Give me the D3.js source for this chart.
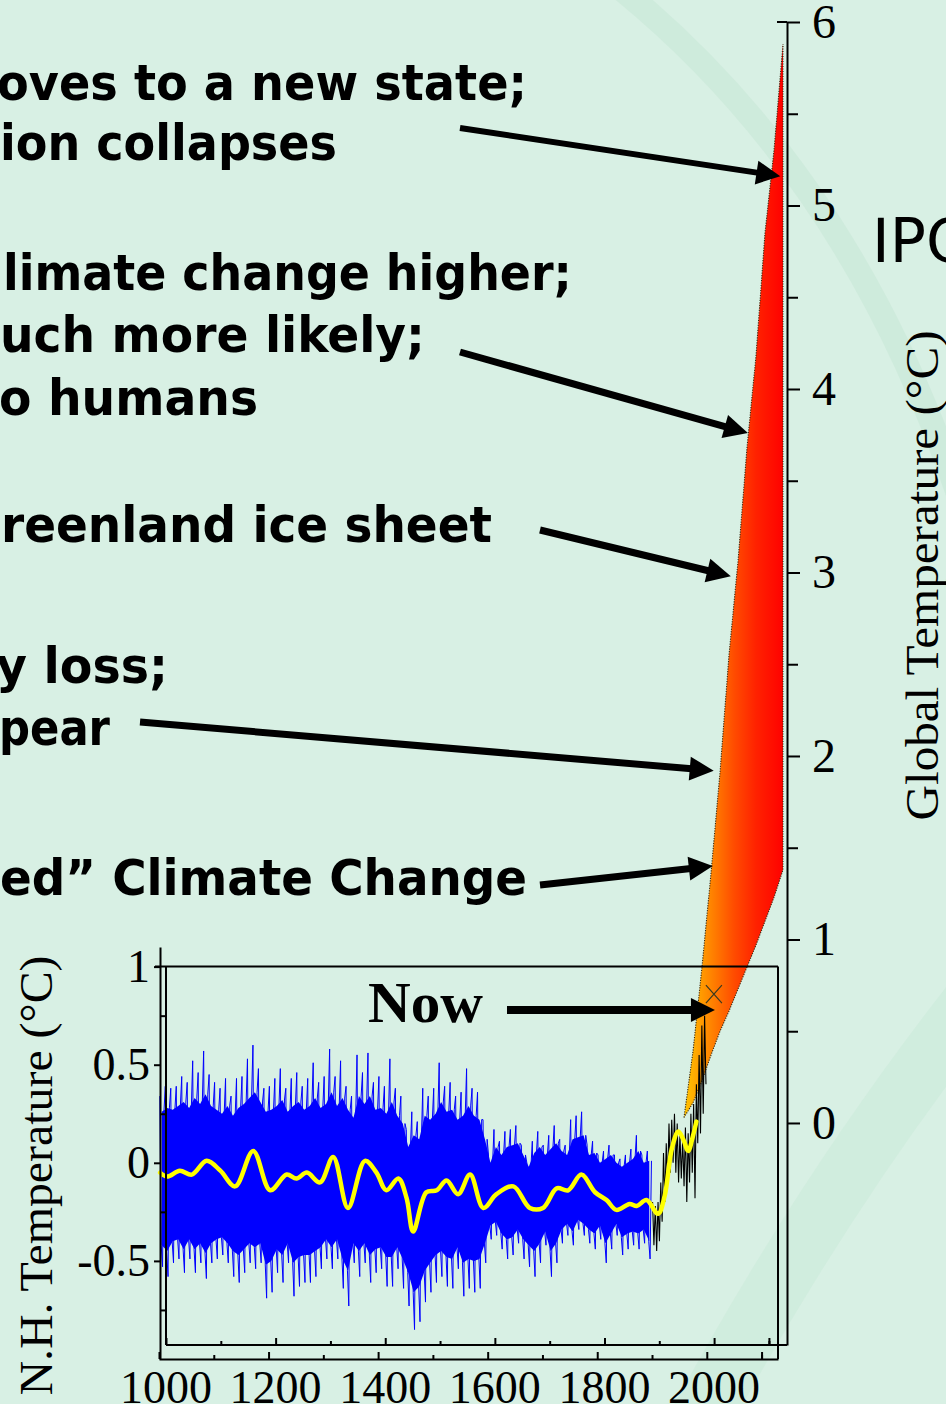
<!DOCTYPE html>
<html>
<head>
<meta charset="utf-8">
<script src="https://cdn.jsdelivr.net/npm/d3@7"></script>
<style>
  html, body { margin: 0; padding: 0; background: #d8f0e4; overflow: hidden; }
  svg { display: block; }
</style>
</head>
<body>
<svg id="chart" width="946" height="1404"></svg>
<script>
// ---------------- DATA ----------------
// Projected global temperature fan (°C), IPCC range
const fanYears = [1990, 2000, 2010, 2020, 2030, 2040, 2050, 2060, 2070, 2080, 2090, 2100];
const fanHigh  = [0.03, 0.39, 0.85, 1.36, 1.91, 2.55, 3.06, 3.68, 4.18, 4.85, 5.30, 5.88];
const fanLow   = [0.03, 0.11, 0.23, 0.37, 0.50, 0.61, 0.73, 0.85, 0.97, 1.10, 1.23, 1.38];

// N.H. proxy reconstruction, per decade (start year of each decade)
const blueDecades = d3.range(1000, 1900, 10);
// extreme spikes
const blueHi = [
  0.34,0.39,0.38,0.39,0.44,0.41,0.52,0.46,0.57,0.45,
  0.41,0.38,0.43,0.34,0.43,0.44,0.53,0.60,0.48,0.38,
  0.39,0.43,0.48,0.38,0.43,0.46,0.39,0.43,0.51,0.41,
  0.44,0.58,0.44,0.52,0.39,0.34,0.55,0.46,0.56,0.41,
  0.44,0.39,0.53,0.38,0.34,0.17,0.26,0.21,0.38,0.34,
  0.38,0.51,0.39,0.41,0.34,0.36,0.48,0.38,0.36,0.22,
  0.04,0.17,0.11,0.16,0.17,0.19,0.09,0.00,0.11,0.16,
  0.09,0.14,0.19,0.12,0.09,0.22,0.24,0.26,0.09,0.11,
  0.04,0.06,0.09,0.04,0.02,0.04,0.07,0.14,0.04,0.06];
const blueLo = [
  -0.53,-0.58,-0.51,-0.49,-0.56,-0.49,-0.56,-0.51,-0.59,-0.51,
  -0.49,-0.47,-0.51,-0.58,-0.61,-0.56,-0.51,-0.54,-0.51,-0.69,
  -0.66,-0.56,-0.61,-0.51,-0.68,-0.63,-0.61,-0.61,-0.58,-0.54,
  -0.49,-0.54,-0.49,-0.64,-0.73,-0.51,-0.58,-0.51,-0.61,-0.56,
  -0.54,-0.63,-0.63,-0.54,-0.64,-0.73,-0.85,-0.81,-0.71,-0.66,
  -0.61,-0.58,-0.63,-0.64,-0.54,-0.68,-0.64,-0.66,-0.64,-0.51,
  -0.39,-0.37,-0.44,-0.49,-0.47,-0.41,-0.49,-0.53,-0.58,-0.51,
  -0.42,-0.58,-0.51,-0.41,-0.37,-0.42,-0.34,-0.37,-0.41,-0.44,
  -0.39,-0.51,-0.44,-0.37,-0.47,-0.44,-0.42,-0.44,-0.41,-0.49];
// dense core band (where annual values pile up)
const coreHi = [
  0.26,0.28,0.27,0.29,0.31,0.28,0.33,0.30,0.35,0.29,
  0.27,0.25,0.29,0.24,0.28,0.30,0.33,0.36,0.31,0.26,
  0.27,0.29,0.32,0.26,0.29,0.31,0.27,0.29,0.33,0.28,
  0.30,0.36,0.29,0.33,0.27,0.23,0.34,0.30,0.34,0.27,
  0.28,0.25,0.31,0.24,0.20,0.08,0.14,0.12,0.24,0.22,
  0.25,0.31,0.26,0.27,0.22,0.24,0.29,0.24,0.22,0.12,
  0.00,0.08,0.04,0.08,0.09,0.10,0.04,-0.02,0.05,0.08,
  0.04,0.07,0.10,0.06,0.04,0.12,0.13,0.14,0.04,0.05,
  0.00,0.02,0.04,0.00,-0.02,0.00,0.02,0.06,0.00,0.01];
const coreLo = [
  -0.42,-0.45,-0.40,-0.39,-0.44,-0.39,-0.44,-0.41,-0.46,-0.41,
  -0.39,-0.38,-0.41,-0.45,-0.47,-0.44,-0.41,-0.43,-0.41,-0.52,
  -0.50,-0.44,-0.47,-0.41,-0.51,-0.48,-0.47,-0.47,-0.45,-0.43,
  -0.39,-0.43,-0.39,-0.49,-0.55,-0.41,-0.45,-0.41,-0.47,-0.44,
  -0.43,-0.48,-0.48,-0.43,-0.49,-0.56,-0.66,-0.63,-0.55,-0.51,
  -0.47,-0.45,-0.48,-0.49,-0.43,-0.51,-0.49,-0.50,-0.49,-0.41,
  -0.32,-0.30,-0.36,-0.39,-0.38,-0.34,-0.39,-0.42,-0.45,-0.41,
  -0.35,-0.45,-0.41,-0.34,-0.31,-0.35,-0.29,-0.31,-0.34,-0.36,
  -0.32,-0.41,-0.36,-0.31,-0.38,-0.36,-0.35,-0.36,-0.34,-0.40];

// Instrumental record: 5-year extremes
const blackYears = d3.range(1900, 2000, 5);
const blackHi = [-0.20,-0.22,-0.20,-0.10,0.05,0.10,0.20,0.22,0.25,0.20,0.15,0.12,0.18,0.15,0.25,0.30,0.40,0.55,0.70,0.75];
const blackLo = [-0.42,-0.45,-0.40,-0.30,-0.20,-0.10,-0.05,0.00,-0.05,-0.10,-0.08,-0.12,-0.20,-0.10,-0.05,-0.18,0.10,0.15,0.25,0.40];

// Smoothed (40-yr) series
const smoothYears = [1002,1015,1038,1060,1087,1112,1139,1172,1203,1233,1251,1270,1294,1318,1345,1376,1397,1415,1437,1452,1464,1488,1507,1525,1546,1568,1592,1616,1647,1677,1701,1726,1747,1771,1796,1817,1835,1859,1872,1890,1911,1923,1936,1948,1957,1966,1975,1981];
const smoothVals  = [-0.05,-0.07,-0.04,-0.06,0.01,-0.04,-0.12,0.06,-0.14,-0.06,-0.08,-0.05,-0.10,0.03,-0.23,0.01,-0.05,-0.14,-0.08,-0.18,-0.35,-0.15,-0.14,-0.09,-0.16,-0.06,-0.23,-0.16,-0.12,-0.23,-0.23,-0.13,-0.14,-0.06,-0.15,-0.19,-0.24,-0.21,-0.22,-0.19,-0.26,-0.17,0.07,0.16,0.12,0.06,0.14,0.21];

// "Now" marker (inset coordinates)
const nowYear = 2013, nowTemp = 0.86;

// Axis ticks
const globalTicks = [0, 1, 2, 3, 4, 5, 6];
const globalMinorTicks = [0.5, 1.5, 2.5, 3.5, 4.5, 5.5];
const nhTicks = [-0.5, 0, 0.5, 1];
const nhMinorTicks = [-0.75, -0.25, 0.25, 0.75];
const yearTicks = [1000, 1200, 1400, 1600, 1800, 2000];
const yearMinorTicks = [1100, 1300, 1500, 1700, 1900, 2100];

// Annotation texts (left part cut off by the slide edge)
const impactLines = [
  "oves to a new state;", "ion collapses",
  "limate change higher;", "uch more likely;", "o humans",
  "reenland ice sheet",
  "y loss;", "pear",
  "ed\u201d Climate Change"];
// arrow targets on the projection (year, °C)
const arrowTargets = [[2097, 5.16], [2061, 3.76], [2042, 2.98], [2023, 1.92], [2022, 1.40], [2024.4, 0.616]];

// ---------------- LAYOUT ----------------
const svg = d3.select("#chart");
const serif = "'Liberation Serif', 'Times New Roman', serif";
const boldSans = "'DejaVu Sans Condensed', 'DejaVu Sans', Tahoma, sans-serif";

const gY   = d3.scaleLinear().domain([-1.21, 6]).range([1345, 22]);
const fanX = d3.scaleLinear().domain([1990, 2100]).range([684, 783]);
const insX = d3.scaleLinear().domain([1000, 2130]).range([159, 778]);
const insXB = d3.scaleLinear().domain([1000, 2133]).range([166, 787]);
const insY = d3.scaleLinear().domain([-1, 1.1]).range([1359, 947]);

// background watermark arcs
svg.append("rect").attr("width", 946).attr("height", 1404).attr("fill", "#d8f0e4");
svg.append("path").attr("d", "M 610 -20 Q 850 170 960 500")
  .attr("fill", "none").attr("stroke", "#c3e5d2").attr("stroke-width", 24).attr("opacity", 0.45);
svg.append("path").attr("d", "M 990 980 Q 830 1180 700 1420")
  .attr("fill", "none").attr("stroke", "#c8e9d6").attr("stroke-width", 60).attr("opacity", 0.45);

// annotation texts
const textLayout = [
  {x: -3, y: 100, w: 530}, {x: 0, y: 160, w: 337},
  {x: 3, y: 290, w: 569}, {x: 0, y: 352, w: 425}, {x: -1, y: 415, w: 259},
  {x: 1, y: 542, w: 491},
  {x: -4, y: 683, w: 172}, {x: -1, y: 745, w: 111},
  {x: 0, y: 895, w: 527}];
svg.append("g").selectAll("text").data(impactLines).join("text")
  .attr("x", (d, i) => textLayout[i].x)
  .attr("y", (d, i) => textLayout[i].y)
  .attr("textLength", (d, i) => textLayout[i].w)
  .attr("lengthAdjust", "spacingAndGlyphs")
  .attr("font-family", boldSans).attr("font-weight", "bold").attr("font-size", 50)
  .attr("fill", "#000").text(d => d);

svg.append("text").attr("x", 872).attr("y", 262).attr("font-family", "'DejaVu Sans', Tahoma, sans-serif")
  .attr("font-size", 60).attr("fill", "#000").text("IPCC");

// ---------------- FAN ----------------
const defs = svg.append("defs");
const grad = defs.append("linearGradient").attr("id", "fanGrad")
  .attr("gradientUnits", "userSpaceOnUse").attr("x1", 684).attr("x2", 784).attr("y1", 0).attr("y2", 0);
[[0, "#ffc400"], [0.15, "#ffa000"], [0.32, "#ff7800"], [0.5, "#ff4c00"], [0.72, "#ff2200"], [1, "#ff0000"]]
  .forEach(([o, c]) => grad.append("stop").attr("offset", o).attr("stop-color", c));

const fanData = fanYears.map((y, i) => ({y, hi: fanHigh[i], lo: fanLow[i]}));
const fanArea = d3.area().x(d => fanX(d.y)).y0(d => gY(d.lo)).y1(d => gY(d.hi));
svg.append("path").datum(fanData).attr("d", fanArea)
  .attr("fill", "url(#fanGrad)")
  .attr("stroke", "#3a2a10").attr("stroke-width", 1.1).attr("stroke-dasharray", "1.2 1.3");

// ---------------- INSET DATA ----------------
const coreData = blueDecades.map((y, i) => ({y: y + 5, hi: coreHi[i], lo: coreLo[i]}));
svg.append("path").datum(coreData)
  .attr("d", d3.area().x(d => insX(d.y)).y0(d => insY(d.lo)).y1(d => insY(d.hi)))
  .attr("fill", "#0000ff");

// each decade's extreme range drawn as a zig-zag of thin strokes
const bluePts = [];
blueDecades.forEach((y, i) => {
  bluePts.push([y + 1.5, blueHi[i]]); bluePts.push([y + 4, coreLo[i]]);
  bluePts.push([y + 6.5, blueLo[i]]); bluePts.push([y + 9, coreHi[i]]);
});
svg.append("path").datum(bluePts)
  .attr("d", d3.line().x(d => insX(d[0])).y(d => insY(d[1])))
  .attr("fill", "none").attr("stroke", "#0000ff").attr("stroke-width", 1);

const blackPts = [];
blackYears.forEach((y, i) => { blackPts.push([y + 1, blackHi[i]]); blackPts.push([y + 3.5, blackLo[i]]); });
svg.append("path").datum(blackPts)
  .attr("d", d3.line().x(d => insX(d[0])).y(d => insY(d[1])))
  .attr("fill", "none").attr("stroke", "#000").attr("stroke-width", 1.1);

const smoothData = smoothYears.map((y, i) => [y, smoothVals[i]]);
svg.append("path").datum(smoothData)
  .attr("d", d3.line().x(d => insX(d[0])).y(d => insY(d[1])).curve(d3.curveCatmullRom.alpha(0.5)))
  .attr("fill", "none").attr("stroke", "#ffff00").attr("stroke-width", 4.5)
  .attr("stroke-linejoin", "round").attr("stroke-linecap", "round");

// Now marker
const nx = insX(nowYear), ny = insY(nowTemp);
svg.append("path").attr("d", `M${nx - 8},${ny - 9}L${nx + 8},${ny + 9}M${nx + 8},${ny - 9}L${nx - 8},${ny + 9}`)
  .attr("stroke", "#3a3a20").attr("stroke-width", 1.2).attr("fill", "none");

// ---------------- FRAMES & AXES ----------------
const frame = svg.append("g").attr("stroke", "#000").attr("stroke-width", 2).attr("fill", "none");
frame.append("line").attr("x1", 155).attr("x2", insX(2130)).attr("y1", insY(1)).attr("y2", insY(1));
frame.append("line").attr("x1", insX(2130)).attr("x2", insX(2130)).attr("y1", insY(1)).attr("y2", insY(-1));
frame.append("line").attr("x1", insXB(1000)).attr("x2", insXB(1000)).attr("y1", insY(1)).attr("y2", gY(-1.21));
frame.append("line").attr("x1", insXB(1000)).attr("x2", insXB(2133)).attr("y1", gY(-1.21)).attr("y2", gY(-1.21));

function styleAxis(g, fs) {
  g.selectAll("path, line").attr("stroke", "#000").attr("stroke-width", 2);
  g.selectAll("text").attr("font-family", serif).attr("font-size", fs).attr("fill", "#000");
}

// Global temperature axis (right)
const gAxis = svg.append("g").attr("transform", "translate(787,0)")
  .call(d3.axisRight(gY).tickValues(globalTicks).tickSize(13).tickSizeOuter(0).tickPadding(12).tickFormat(d3.format("d")));
styleAxis(gAxis, 48);
const gMinor = svg.append("g").attr("transform", "translate(787,0)")
  .call(d3.axisRight(gY).tickValues(globalMinorTicks).tickSize(11).tickSizeOuter(0).tickFormat(""));
styleAxis(gMinor, 48);
gMinor.select(".domain").remove();
svg.append("line").attr("x1", 777).attr("x2", 787).attr("y1", gY(6)).attr("y2", gY(6))
  .attr("stroke", "#000").attr("stroke-width", 2);

svg.append("text")
  .attr("transform", `translate(938,${gY(3) + 3}) rotate(-90)`)
  .attr("text-anchor", "middle").attr("font-family", serif).attr("font-size", 46)
  .attr("textLength", 490).attr("lengthAdjust", "spacingAndGlyphs")
  .text("Global  Temperature (°C)");

// N.H. inset left axis (frame A)
const nhAxis = svg.append("g").attr("transform", `translate(${insX(1000) + 1},0)`)
  .call(d3.axisLeft(insY).tickValues(nhTicks).tickSize(6).tickSizeOuter(0).tickPadding(4)
    .tickFormat(d => d === 0 ? "0" : (d === 1 ? "1" : d3.format(".1f")(d).replace("\u2212", "-"))));
styleAxis(nhAxis, 46);
const nhMinor = svg.append("g").attr("transform", `translate(${insX(1000) + 1},0)`)
  .call(d3.axisRight(insY).tickValues(nhMinorTicks).tickSize(5).tickSizeOuter(0).tickFormat(""));
styleAxis(nhMinor, 46);
nhMinor.select(".domain").remove();

svg.append("text")
  .attr("transform", `translate(52,${(insY(1.1) + 1400) / 2 + 2}) rotate(-90)`)
  .attr("text-anchor", "middle").attr("font-family", serif).attr("font-size", 47)
  .attr("textLength", 440).attr("lengthAdjust", "spacingAndGlyphs")
  .text("N.H. Temperature (°C)");

// bottom axes (ticks pointing up)
const botA = svg.append("g").attr("transform", `translate(0,${insY(-1)})`)
  .call(d3.axisTop(insX).tickValues(yearTicks.concat([2100])).tickSize(7).tickSizeOuter(0).tickFormat(""));
styleAxis(botA, 46);
const botAm = svg.append("g").attr("transform", `translate(0,${insY(-1)})`)
  .call(d3.axisTop(insX).tickValues(yearMinorTicks).tickSize(4).tickSizeOuter(0).tickFormat(""));
styleAxis(botAm, 46); botAm.select(".domain").remove();
const botB = svg.append("g").attr("transform", `translate(0,${gY(-1.21)})`)
  .call(d3.axisTop(insXB).tickValues(yearTicks.concat([2100])).tickSize(7).tickSizeOuter(0).tickFormat(""));
styleAxis(botB, 46); botB.select(".domain").remove();
const botBm = svg.append("g").attr("transform", `translate(0,${gY(-1.21)})`)
  .call(d3.axisTop(insXB).tickValues(yearMinorTicks).tickSize(4).tickSizeOuter(0).tickFormat(""));
styleAxis(botBm, 46); botBm.select(".domain").remove();

svg.append("g").selectAll("text").data(yearTicks).join("text")
  .attr("x", d => insXB(d)).attr("y", 1403).attr("text-anchor", "middle")
  .attr("font-family", serif).attr("font-size", 46).attr("fill", "#000").text(d => d);

// ---------------- ARROWS ----------------
const arrowTails = [[460, 128], [460, 352], [540, 530], [140, 722], [540, 885], [507, 1010]];
const arrowWidths = [6, 7, 7, 7, 7, 8];
function drawArrow(x1, y1, x2, y2, w) {
  const dx = x2 - x1, dy = y2 - y1, len = Math.hypot(dx, dy);
  const ux = dx / len, uy = dy / len, px = -uy, py = ux;
  const hl = 24, hw = 12;
  const bx = x2 - ux * hl, by = y2 - uy * hl;
  svg.append("line").attr("x1", x1).attr("y1", y1).attr("x2", bx + ux * 2).attr("y2", by + uy * 2)
    .attr("stroke", "#000").attr("stroke-width", w);
  svg.append("path")
    .attr("d", `M${x2},${y2}L${bx + px * hw},${by + py * hw}L${bx - px * hw},${by - py * hw}Z`)
    .attr("fill", "#000");
}
arrowTargets.forEach((t, i) => drawArrow(arrowTails[i][0], arrowTails[i][1], fanX(t[0]), gY(t[1]), arrowWidths[i]));

svg.append("text").attr("x", 368).attr("y", 1022).attr("font-family", serif).attr("font-weight", "bold")
  .attr("font-size", 56).attr("textLength", 115).attr("lengthAdjust", "spacingAndGlyphs").text("Now");
</script>
</body>
</html>
